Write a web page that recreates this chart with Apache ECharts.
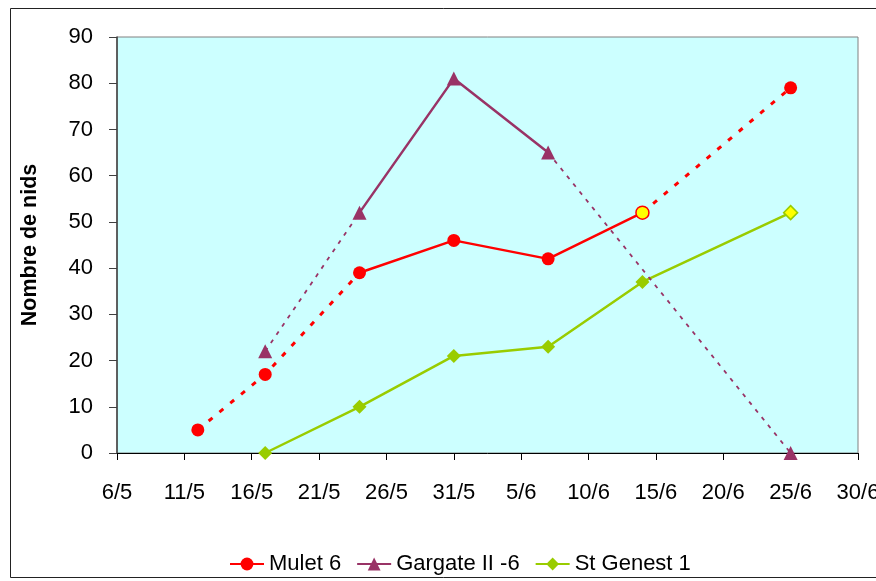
<!DOCTYPE html>
<html>
<head>
<meta charset="utf-8">
<script src="https://cdn.jsdelivr.net/npm/echarts@6/dist/echarts.min.js"></script>
<style>
html,body{margin:0;padding:0;background:#fff;}
#c{width:876px;height:581px;}
</style>
</head>
<body>
<div id="c"></div>
<script>
// ---- data ----
var xTickLabels = ['6/5','11/5','16/5','21/5','26/5','31/5','5/6','10/6','15/6','20/6','25/6','30/6'];
var yTickValues = [0,10,20,30,40,50,60,70,80,90];

var muletDates  = ['12/5','17/5','24/5','31/5','7/6','14/6','25/6'];
var muletValues = [5, 17, 39, 46, 42, 52, 79];

var gargateDates  = ['17/5','24/5','31/5','7/6','25/6'];
var gargateValues = [22, 52, 81, 65, 0];

var genestDates  = ['17/5','24/5','31/5','7/6','14/6','25/6'];
var genestValues = [0, 10, 21, 23, 37, 52];

var seriesNames = ['Mulet 6', 'Gargate II -6', 'St Genest 1'];

// day offset from 6 May
function dayOf(s){
  var p = s.split('/');
  var d = +p[0], m = +p[1];
  return (m === 5 ? d : 31 + d) - 6;
}
function pts(dates, vals, from, to){
  var out = [];
  for (var i = from; i <= to; i++) out.push([dayOf(dates[i]), vals[i]]);
  return out;
}

var RED = '#FF0000', PURPLE = '#993366', GREEN = '#99CC00', YELLOW = '#FFFF00';
var FS = 22;
var FONT = 'Liberation Sans, Arial, sans-serif';

var redDot = {color: RED, width: 3, type: [5, 9]};
var purpleDash = {color: PURPLE, width: 1.8, type: [4, 6]};

var muletSolid = pts(muletDates, muletValues, 2, 5).map(function(p, i, a){
  if (i === a.length - 1) return {value: p, itemStyle: {color: YELLOW, borderColor: RED, borderWidth: 1.5}};
  return p;
});

var series = [
  {name: seriesNames[0], type: 'line', data: muletSolid, symbol: 'circle', symbolSize: 13,
   lineStyle: {color: RED, width: 2.5}, itemStyle: {color: RED}, z: 5},
  {name: seriesNames[1], type: 'line', data: pts(gargateDates, gargateValues, 1, 3), symbol: 'triangle', symbolSize: 14,
   lineStyle: {color: PURPLE, width: 2.5}, itemStyle: {color: PURPLE}, z: 4},
  {name: seriesNames[2], type: 'line', symbol: 'diamond', symbolSize: 14,
   data: pts(genestDates, genestValues, 0, 5).map(function(p, i, a){
     if (i === a.length - 1) return {value: p, itemStyle: {color: YELLOW, borderColor: GREEN, borderWidth: 1.5}};
     return p;
   }),
   lineStyle: {color: GREEN, width: 2.5}, itemStyle: {color: GREEN}, z: 3},
  {name: seriesNames[0], type: 'line', data: pts(muletDates, muletValues, 0, 2).map(function(p, i){
     return i === 2 ? {value: p, symbol: 'none'} : p; }),
   symbol: 'circle', symbolSize: 13, lineStyle: redDot, itemStyle: {color: RED}, z: 4},
  {name: seriesNames[0], type: 'line', data: pts(muletDates, muletValues, 5, 6).map(function(p, i){
     return i === 0 ? {value: p, symbol: 'none'} : p; }),
   symbol: 'circle', symbolSize: 13, lineStyle: redDot, itemStyle: {color: RED}, z: 4},
  {name: seriesNames[1], type: 'line', data: pts(gargateDates, gargateValues, 0, 1).map(function(p, i){
     return i === 1 ? {value: p, symbol: 'none'} : p; }),
   symbol: 'triangle', symbolSize: 14, lineStyle: purpleDash, itemStyle: {color: PURPLE}, z: 3},
  {name: seriesNames[1], type: 'line', data: pts(gargateDates, gargateValues, 3, 4).map(function(p, i){
     return i === 0 ? {value: p, symbol: 'none'} : p; }),
   symbol: 'triangle', symbolSize: 14, lineStyle: purpleDash, itemStyle: {color: PURPLE}, z: 3}
];

var chart = echarts.init(document.getElementById('c'), null, {renderer: 'canvas'});
chart.setOption({
  animation: false,
  backgroundColor: '#fff',
  textStyle: {fontFamily: FONT},
  grid: {left: 117, right: 18, top: 37, bottom: 128, show: true, backgroundColor: '#CCFFFF',
         borderColor: '#808080', borderWidth: 1, containLabel: false, outerBoundsMode: 'none'},
  xAxis: {
    type: 'value', min: 0, max: 55, interval: 5,
    axisLine: {show: true, onZero: false, lineStyle: {color: '#000', width: 1}},
    axisTick: {show: true, length: 7, inside: false, lineStyle: {color: '#000'}},
    splitLine: {show: false},
    axisLabel: {margin: 29, fontSize: FS, color: '#000', fontFamily: FONT, hideOverlap: false,
      formatter: function(v){ return xTickLabels[Math.round(v / 5)]; }}
  },
  yAxis: {
    type: 'value', min: yTickValues[0], max: yTickValues[yTickValues.length - 1], interval: 10,
    name: 'Nombre de nids', nameLocation: 'middle', nameGap: 76,
    nameTextStyle: {fontSize: 21.5, fontWeight: 'bold', color: '#000', fontFamily: FONT},
    axisLine: {show: true, lineStyle: {color: '#404040', width: 1.5}},
    axisTick: {show: true, length: 8, inside: false, lineStyle: {color: '#404040'}},
    splitLine: {show: false},
    axisLabel: {margin: 24, fontSize: FS, color: '#000', fontFamily: FONT}
  },
  legend: {
    data: seriesNames, left: 224, top: 548, itemWidth: 34, itemHeight: 16, itemGap: 15,
    textStyle: {fontSize: FS, color: '#000', fontFamily: FONT}
  },
  graphic: [{type: 'rect', shape: {x: 10.5, y: 8.5, width: 900, height: 569}, silent: true, z: -1,
    style: {fill: 'none', stroke: '#222', lineWidth: 1}}],
  series: series
});
</script>
</body>
</html>
